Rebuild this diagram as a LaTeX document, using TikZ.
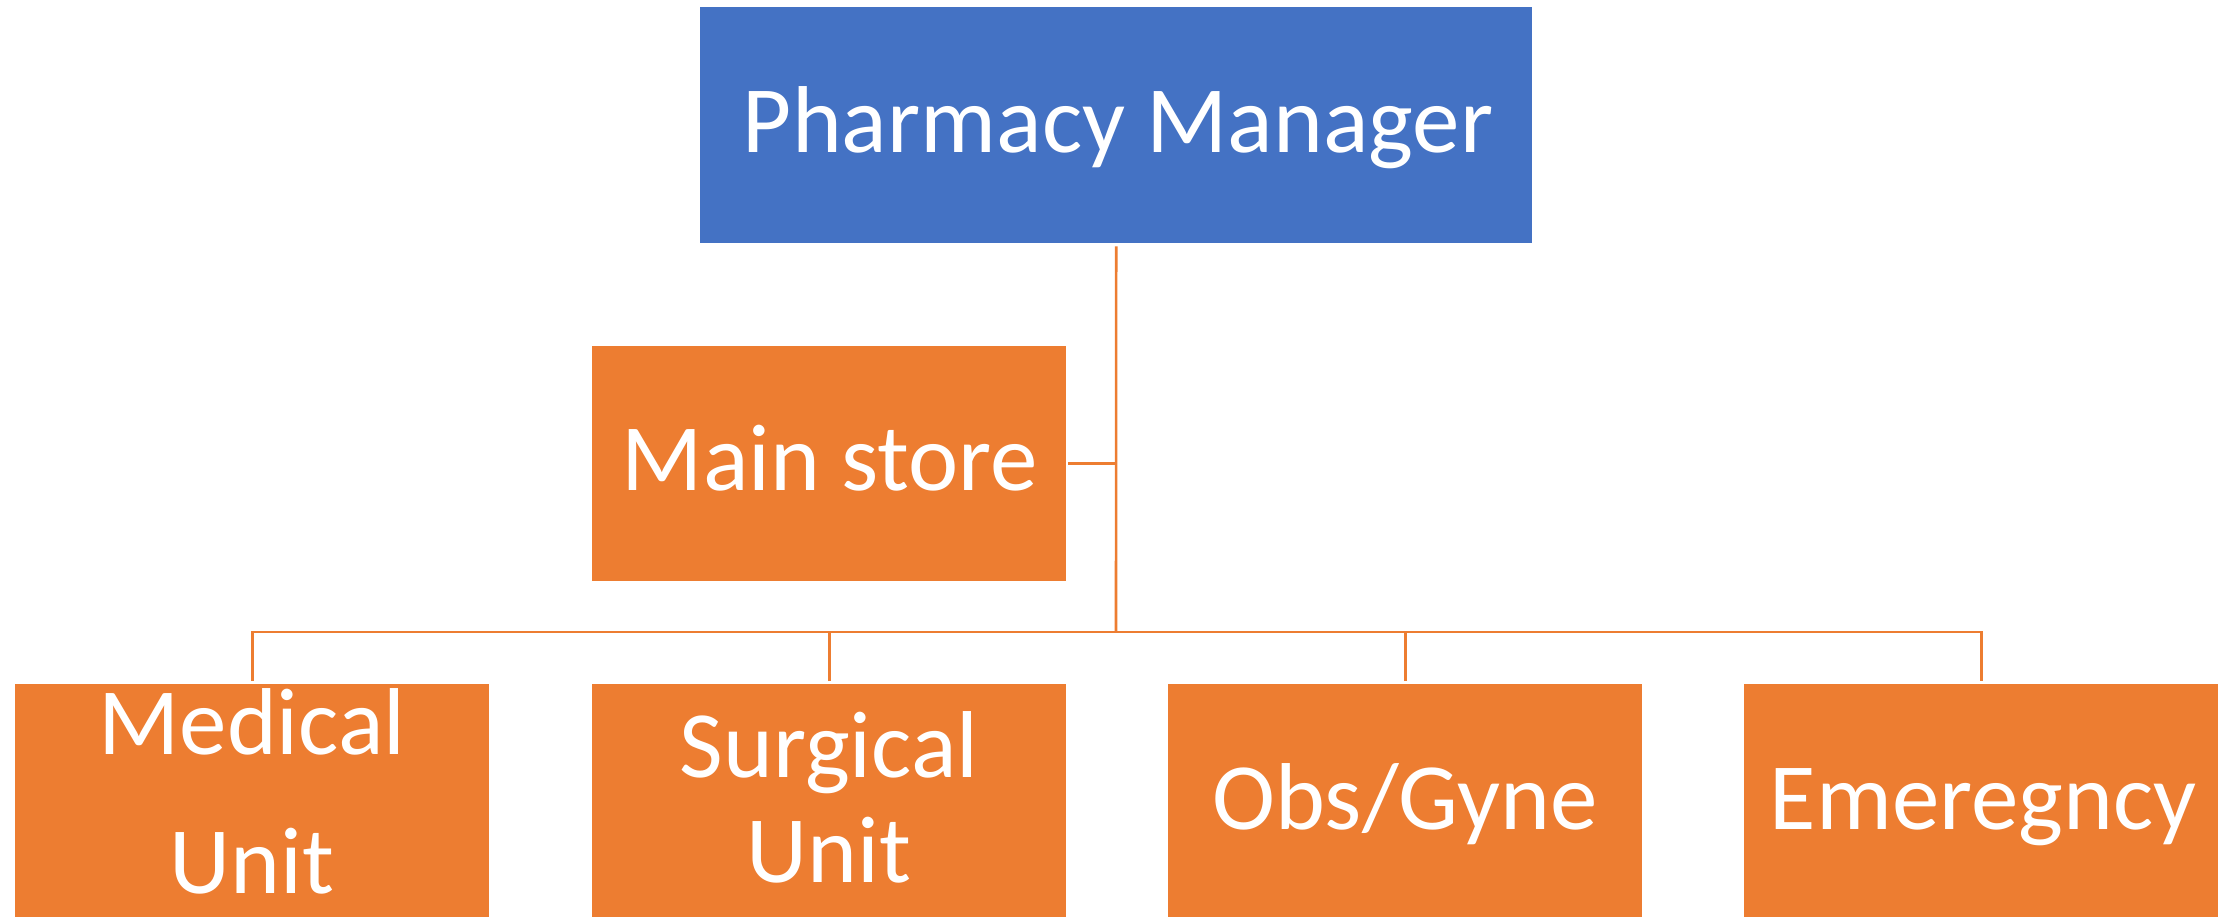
\documentclass[tikz,border=0pt]{standalone}
\usepackage{fontspec}
\setmainfont{Carlito}
\definecolor{pmblue}{HTML}{4472C4}
\definecolor{unitorange}{HTML}{ED7D31}
\begin{document}
\begin{tikzpicture}[x=1pt,y=-1pt,
  box/.style={fill=#1, draw=none, inner sep=0pt, minimum width=474pt, minimum height=233pt, anchor=north west},
  lbl/.style={text=white, inner sep=0pt, anchor=base, font=\fontsize{95}{114}\selectfont},
  conn/.style={draw=unitorange, line width=2.6pt}]
\useasboundingbox (0,0) rectangle (2233,917);
% boxes
\node[box=pmblue, minimum width=832pt, minimum height=236pt] (pm) at (700,7) {};
\node[box=unitorange, minimum height=235pt] (ms) at (592,346) {};
\node[box=unitorange] (med) at (15,684) {};
\node[box=unitorange] (sur) at (592,684) {};
\node[box=unitorange] (obs) at (1168,684) {};
\node[box=unitorange] (eme) at (1744,684) {};
% labels
\node[lbl] (pmt) at (1118,153) {Pharmacy Manager};
\node[lbl] (mst) at (830,490) {Main store};
\node[lbl, font=\fontsize{95}{139}\selectfont] (medt) at (252,754) {\begin{tabular}[t]{@{}c@{}}Medical\\Unit\end{tabular}};
\node[lbl, font=\fontsize{95}{105}\selectfont] (surt) at (829,777) {\begin{tabular}[t]{@{}c@{}}Surgical\\Unit\end{tabular}};
\node[lbl] (obst) at (1405,829) {Obs/Gyne};
\node[lbl] (emet) at (1983,829) {Emeregncy};
% connectors
\coordinate (bus) at (1116,632);
\draw[conn] ([yshift=-3pt]pm.south) -- (bus);
\draw[conn] ([xshift=2pt]ms.east) -- (ms.east -| bus);
\draw[conn] ([yshift=3pt]med.north) -- (med.north |- bus) -- (eme.north |- bus) -- ([yshift=3pt]eme.north);
\draw[conn] ([yshift=3pt]sur.north) -- (sur.north |- bus);
\draw[conn] ([yshift=3pt]obs.north) -- (obs.north |- bus);
\end{tikzpicture}
\end{document}
